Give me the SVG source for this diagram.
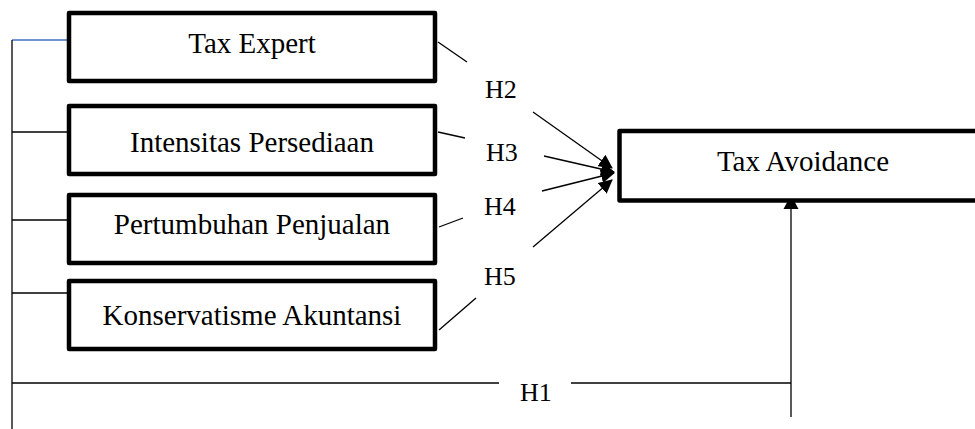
<svg xmlns="http://www.w3.org/2000/svg" width="975" height="429" viewBox="0 0 975 429">
<style>
.box{fill:#fff;stroke:#000;stroke-width:4.5;stroke-linejoin:round}
.t{font-family:'Liberation Serif','DejaVu Serif',serif;font-size:29px;fill:#000}
.h{font-family:'Liberation Serif','DejaVu Serif',serif;font-size:26px;fill:#000}
.ln{stroke:#000;stroke-width:1.3;fill:none}
.arr{stroke:#000;stroke-width:1.3;fill:none;marker-end:url(#ah)}
</style>
<defs>
<marker id="ah" markerUnits="userSpaceOnUse" markerWidth="14" markerHeight="14" refX="13" refY="7" orient="auto" viewBox="0 0 14 14">
<path d="M0,0 L14,7 L0,14 z" fill="#000"/>
</marker>
</defs>
<rect width="975" height="429" fill="#fff"/>
<g id="connectors">
<line x1="12" y1="40" x2="67" y2="40" stroke="#4472C4" stroke-width="1.3"/>
<line class="ln" x1="12" y1="40" x2="12" y2="429"/>
<line class="ln" x1="12" y1="132" x2="67" y2="132"/>
<line class="ln" x1="12" y1="220" x2="67" y2="220"/>
<line class="ln" x1="12" y1="293" x2="67" y2="293"/>
<line class="ln" x1="12" y1="383" x2="499" y2="383"/>
<line class="ln" x1="571" y1="383" x2="791" y2="383"/>
<line class="ln" x1="791" y1="417" x2="791" y2="208"/>
<path d="M791,195 L798.5,209 L783.5,209 z" fill="#000"/>
<line class="ln" x1="438" y1="42" x2="467" y2="62"/>
<line class="ln" x1="438" y1="132" x2="465" y2="138"/>
<line class="ln" x1="439" y1="227" x2="463" y2="218"/>
<line class="ln" x1="439" y1="330" x2="476" y2="298"/>
<line class="arr" x1="533" y1="112" x2="612" y2="168"/>
<line class="arr" x1="544" y1="156" x2="614" y2="172"/>
<line class="arr" x1="542" y1="191" x2="614" y2="173"/>
<line class="arr" x1="533" y1="247" x2="612" y2="180"/>
</g>
<g id="tax-expert">
<rect class="box" x="69" y="13" width="366" height="68"/>
<text class="t" x="252" y="53" text-anchor="middle" font-family="Liberation Serif">Tax Expert</text>
</g>
<g id="intensitas-persediaan">
<rect class="box" x="69" y="106" width="366" height="68"/>
<text class="t" x="252" y="152" text-anchor="middle">Intensitas Persediaan</text>
</g>
<g id="pertumbuhan-penjualan">
<rect class="box" x="69" y="195" width="366" height="68"/>
<text class="t" x="252" y="234" text-anchor="middle">Pertumbuhan Penjualan</text>
</g>
<g id="konservatisme-akuntansi">
<rect class="box" x="69" y="281" width="366" height="68"/>
<text class="t" x="252" y="325" text-anchor="middle">Konservatisme Akuntansi</text>
</g>
<g id="tax-avoidance">
<rect class="box" x="619.5" y="131" width="400" height="69.5"/>
<text class="t" x="803" y="171" text-anchor="middle">Tax Avoidance</text>
</g>
<g id="labels">
<text class="h" x="485" y="98">H2</text>
<text class="h" x="486" y="161">H3</text>
<text class="h" x="484" y="215">H4</text>
<text class="h" x="484" y="285">H5</text>
<text class="h" x="520" y="401">H1</text>
</g>
</svg>
